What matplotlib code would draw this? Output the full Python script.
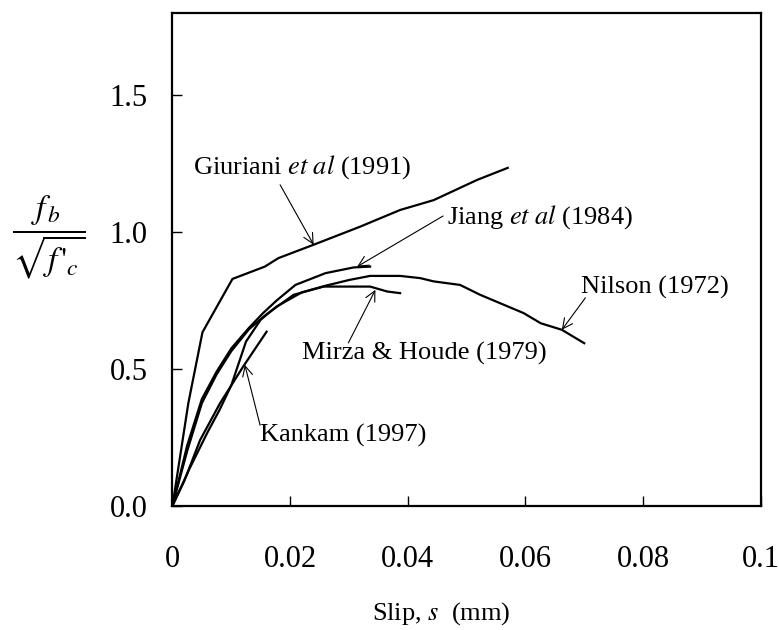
import matplotlib
matplotlib.use("Agg")
import matplotlib.pyplot as plt

plt.rcParams['font.family'] = ['Liberation Serif', 'DejaVu Serif']
plt.rcParams['mathtext.fontset'] = 'stix'

# ---- data ----
giuriani_x = [0, 0.0027, 0.0051, 0.0102, 0.0157, 0.018, 0.024, 0.0319, 0.0387, 0.0444, 0.0518, 0.057]
giuriani_y = [0, 0.375, 0.634, 0.829, 0.874, 0.905, 0.954, 1.02, 1.081, 1.117, 1.191, 1.235]

jiang_x = [0, 0.0025, 0.005, 0.0075, 0.010, 0.013, 0.0154, 0.0177, 0.0209, 0.026, 0.0308, 0.0336]
jiang_y = [0, 0.22, 0.39, 0.49, 0.575, 0.65, 0.704, 0.75, 0.807, 0.85, 0.871, 0.874]

mirza_x = [0, 0.0025, 0.005, 0.0075, 0.010, 0.013, 0.016, 0.0206, 0.0257, 0.0336, 0.0365, 0.0387]
mirza_y = [0, 0.20, 0.375, 0.48, 0.565, 0.645, 0.70, 0.771, 0.801, 0.801, 0.783, 0.777]

nilson_x = [0, 0.003, 0.006, 0.008, 0.010, 0.0125, 0.015, 0.0177, 0.022, 0.026, 0.030, 0.0336,
            0.0387, 0.0421, 0.0444, 0.0489, 0.0523, 0.0597, 0.0626, 0.0662, 0.070]
nilson_y = [0, 0.14, 0.27, 0.35, 0.44, 0.60, 0.68, 0.728, 0.78, 0.804, 0.825, 0.84,
            0.84, 0.832, 0.82, 0.807, 0.771, 0.704, 0.667, 0.643, 0.594]

kankam_x = [0, 0.002, 0.0047, 0.0081, 0.012, 0.016]
kankam_y = [0, 0.09, 0.24, 0.375, 0.508, 0.636]

x_ticks = [0, 0.02, 0.04, 0.06, 0.08, 0.1]
x_ticklabels = ['0', '0.02', '0.04', '0.06', '0.08', '0.1']
y_ticks = [0.0, 0.5, 1.0, 1.5]
y_ticklabels = ['0.0', '0.5', '1.0', '1.5']

# labels: (text, label x, label baseline y, leader start, arrow tip)
annotations = [
    (r'Giuriani $\mathit{et\ al}$ (1991)', 0.0035, 1.213, (0.0183, 1.173), (0.024, 0.954)),
    (r'Jiang $\mathit{et\ al}$ (1984)', 0.0467, 1.033, (0.046, 1.059), (0.0314, 0.874)),
    ('Nilson (1972)', 0.0694, 0.777, (0.0702, 0.76), (0.0662, 0.643)),
    ('Mirza & Houde (1979)', 0.0220, 0.533, (0.0299, 0.595), (0.0345, 0.789)),
    ('Kankam (1997)', 0.0149, 0.234, (0.0149, 0.294), (0.0123, 0.515)),
]

fig = plt.figure(figsize=(7.79, 6.3), dpi=100)
ax = fig.add_axes([0.2214, 0.1973, 0.9765 - 0.2214, 0.9789 - 0.1973])

for xs, ys in [(giuriani_x, giuriani_y), (jiang_x, jiang_y), (mirza_x, mirza_y),
               (nilson_x, nilson_y), (kankam_x, kankam_y)]:
    ax.plot(xs, ys, color='black', lw=1.6, solid_joinstyle='round')

for text, lx, ly, start, tip in annotations:
    ax.annotate('', xy=tip, xytext=start,
                arrowprops=dict(arrowstyle='->', color='black', lw=0.8,
                                shrinkA=0, shrinkB=0, mutation_scale=18))
    ax.text(lx, ly, text, fontsize=19, ha='left', va='baseline')

ax.set_xlim(0, 0.1)
ax.set_ylim(0, 1.8)
ax.set_xticks(x_ticks)
ax.set_xticklabels(x_ticklabels)
ax.set_yticks(y_ticks)
ax.set_yticklabels(y_ticklabels)
ax.tick_params(axis='both', direction='in', length=7, width=1.0, labelsize=22)
ax.tick_params(axis='x', pad=28)
ax.tick_params(axis='y', pad=18)
for sp in ax.spines.values():
    sp.set_linewidth(1.6)

fig.text(441.5 / 779, 1 - 620 / 630, r'Slip, $\mathit{s}$  (mm)', fontsize=19,
         ha='center', va='baseline')
fig.text(48.5 / 779, 1 - 237 / 630, r"$\dfrac{f_{\,b}}{\sqrt{f\,'_{c}}}$", fontsize=24,
         ha='center', va='center')

fig.savefig('out.png', dpi=100)
